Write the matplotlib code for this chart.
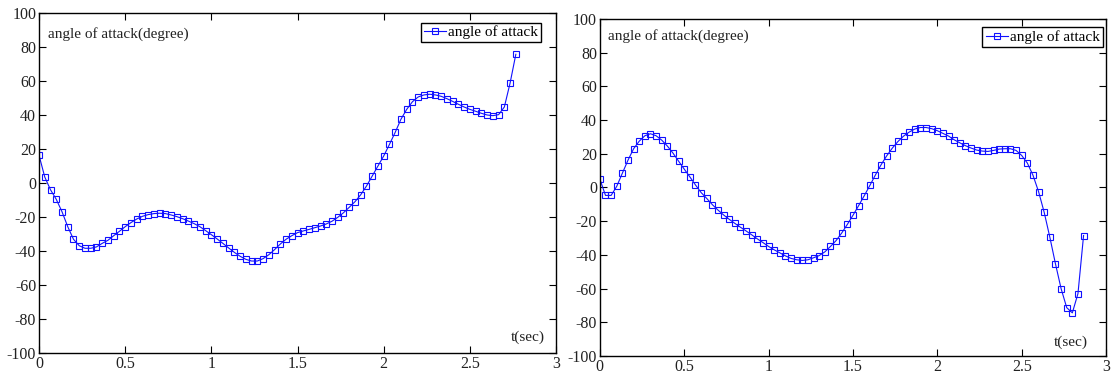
import matplotlib
matplotlib.use("Agg")
import matplotlib.pyplot as plt
from matplotlib.ticker import FuncFormatter, MultipleLocator
import numpy as np

plt.rcParams['font.family'] = ['Liberation Serif', 'DejaVu Serif']
plt.rcParams['axes.unicode_minus'] = False

# sample step of the simulation (s)
DT = 1.0 / 30.0

# angle of attack, run 1 (deg)
alpha_1 = [16.3, 3.5, -4.0, -9.6, -16.9, -25.7, -33.1, -36.9, -38.4, -38.4,
           -37.6, -35.5, -33.7, -31.0, -28.4, -25.7, -23.3, -21.2, -19.6, -18.6,
           -18.0, -17.8, -18.0, -18.8, -19.8, -21.0, -22.4, -23.9, -25.7, -28.0,
           -30.4, -32.9, -35.5, -38.2, -40.8, -43.1, -44.9, -45.9, -45.9, -44.5,
           -42.2, -39.2, -35.9, -33.1, -31.0, -29.2, -28.2, -27.3, -26.3, -25.3,
           -24.1, -22.5, -20.2, -17.5, -14.3, -11.0, -6.9, -1.8, 4.1, 10.0,
           15.9, 22.7, 29.8, 37.5, 43.3, 47.8, 50.6, 51.8, 52.2, 51.8,
           51.0, 49.6, 48.0, 46.3, 44.7, 43.3, 42.2, 41.0, 40.0, 39.6,
           40.2, 44.7, 58.8, 75.7]

# angle of attack, run 2 (deg)
alpha_2 = [5.0, -4.7, -4.7, 0.7, 8.5, 16.2, 23.0, 27.5, 30.7, 31.9,
           30.7, 28.1, 24.6, 20.4, 15.6, 10.9, 6.3, 1.5, -3.0, -6.5,
           -10.2, -13.4, -16.3, -18.9, -21.3, -23.6, -25.8, -28.1, -30.5, -32.7,
           -35.0, -37.0, -38.8, -40.6, -42.1, -42.9, -43.3, -42.9, -41.7, -40.4,
           -38.2, -35.0, -31.5, -27.0, -21.9, -16.5, -10.8, -4.9, 1.2, 7.5,
           13.5, 18.8, 23.4, 27.3, 30.5, 32.9, 34.7, 35.6, 35.6, 34.9,
           33.7, 32.1, 30.5, 28.3, 26.5, 24.8, 23.4, 22.2, 21.6, 21.4,
           22.0, 22.8, 23.0, 23.0, 22.0, 19.0, 14.5, 7.3, -2.5, -14.8,
           -29.5, -45.3, -60.0, -71.3, -74.4, -63.0, -28.5]

runs = [alpha_1, alpha_2]

# per panel: axes box, legend anchor, title-text y, t(sec) x/y
panels = [
    dict(box=[0.035, 0.0536, 0.4637, 0.9116], leg=(0.971, 0.972),
         ty=0.938, sx=0.979, sy=0.047),
    dict(box=[0.538, 0.0456, 0.454, 0.9035], leg=(0.994, 0.976),
         ty=0.95, sx=0.964, sy=0.04),
]

fig = plt.figure(figsize=(11.15, 3.73), dpi=100)
fmt = FuncFormatter(lambda v, p: '%g' % v)

for alpha, pn in zip(runs, panels):
    ax = fig.add_axes(pn['box'])
    t = np.arange(len(alpha)) * DT
    ax.plot(t, alpha, color='#1010ff', lw=0.8, marker='s', markersize=4.2,
            markerfacecolor='none', markeredgecolor='#1010ff', markeredgewidth=0.8,
            label='angle of attack')
    ax.set_xlim(0, 3)
    ax.set_ylim(-100, 100)
    ax.xaxis.set_major_locator(MultipleLocator(0.5))
    ax.yaxis.set_major_locator(MultipleLocator(20))
    ax.xaxis.set_major_formatter(fmt)
    ax.yaxis.set_major_formatter(fmt)
    ax.tick_params(direction='in', top=True, right=True, length=5, width=0.8,
                   labelsize=11.5, pad=2, colors='black', labelcolor='#222222')
    for s in ax.spines.values():
        s.set_linewidth(1.0)
    ax.text(0.017, pn['ty'], 'angle of attack(degree)', transform=ax.transAxes,
            fontsize=11, color='#222222', ha='left', va='center')
    ax.text(pn['sx'], pn['sy'], 't(sec)', transform=ax.transAxes,
            fontsize=11, color='#222222', ha='right', va='center')
    leg = ax.legend(loc='upper right', bbox_to_anchor=pn['leg'], fontsize=11,
                    handlelength=1.5, handletextpad=0.1, borderpad=0.2,
                    borderaxespad=0, fancybox=False, framealpha=1,
                    markerscale=0.9)
    leg.get_frame().set_edgecolor('black')
    leg.get_frame().set_linewidth(1.0)

fig.savefig('out.png', dpi=100)
